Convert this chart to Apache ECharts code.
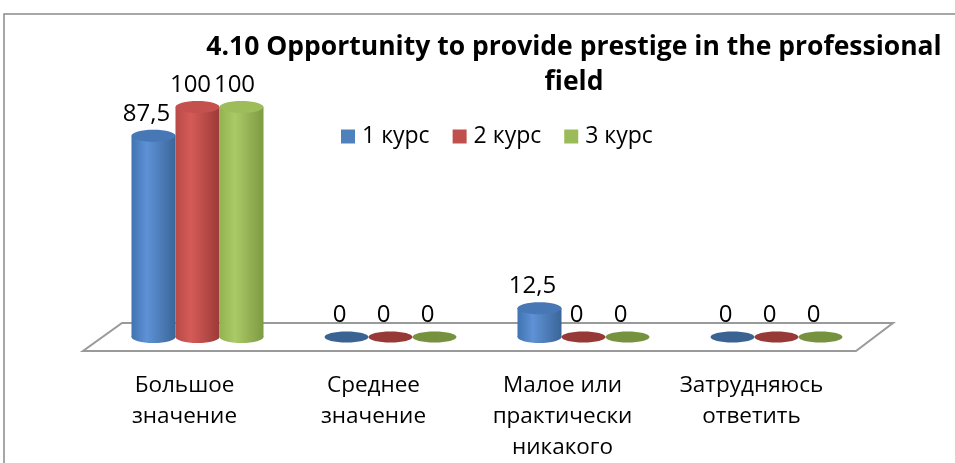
<!DOCTYPE html>
<html>
<head>
<meta charset="utf-8">
<script src="https://cdn.jsdelivr.net/npm/echarts@6/dist/echarts.min.js"></script>
<style>
html,body{margin:0;padding:0;background:#fff;}
#chart{width:955px;height:463px;}
</style>
</head>
<body>
<div id="chart"></div>
<script>
const categories = ['Большое\nзначение', 'Среднее\nзначение', 'Малое или\nпрактически\nникакого', 'Затрудняюсь\nответить'];
const seriesNames = ['1 курс', '2 курс', '3 курс'];
const course1 = [87.5, 0, 12.5, 0];
const course2 = [100, 0, 0, 0];
const course3 = [100, 0, 0, 0];
const titleText = '4.10 Opportunity to provide prestige in the professional\nfield';

const FONT = '"Open Sans", "DejaVu Sans", sans-serif';
const palettes = [
  {base: '#4F81BD', body: ['#4173B0', '#5E92D6', '#3A6598'], top: '#4777B5', disc: '#3A6394'},
  {base: '#C0504D', body: ['#B84A47', '#D45B57', '#9C3A37'], top: '#C4514E', disc: '#973936'},
  {base: '#9BBB59', body: ['#93B353', '#AACA66', '#7E9A43'], top: '#9DBD5B', disc: '#77923F'}
];
const allData = [course1, course2, course3];

function grad(c) {
  return new echarts.graphic.LinearGradient(0, 0, 1, 0, [
    {offset: 0, color: c[0]}, {offset: 0.35, color: c[1]}, {offset: 1, color: c[2]}
  ]);
}

function makeRender(s) {
  const pal = palettes[s];
  return function (params, api) {
    const ci = api.value(0), v = api.value(1);
    const base = api.coord([ci, 0]);
    const top = api.coord([ci, v]);
    const band = api.size([1, 0])[0];
    const w = band * 0.228;
    const cx = base[0] + (s - 1) * w;
    const rx = w / 2, ry = 6;
    const children = [];
    if (v === 0) {
      children.push({type: 'ellipse', shape: {cx: cx, cy: base[1], rx: rx, ry: 5.5}, style: {fill: pal.disc}});
    } else {
      children.push({type: 'ellipse', shape: {cx: cx, cy: base[1], rx: rx, ry: ry}, style: {fill: grad(pal.body)}});
      children.push({type: 'rect', shape: {x: cx - rx, y: top[1], width: w, height: base[1] - top[1]}, style: {fill: grad(pal.body)}});
      children.push({type: 'ellipse', shape: {cx: cx, cy: top[1], rx: rx, ry: ry}, style: {fill: pal.top}});
    }
    children.push({
      type: 'text',
      style: {
        x: cx - 7, y: top[1] - 22,
        text: String(v).replace('.', ','),
        font: '24px ' + FONT, fill: '#000',
        align: 'center', verticalAlign: 'middle'
      }
    });
    return {type: 'group', children: children};
  };
}

const chart = echarts.init(document.getElementById('chart'), null, {renderer: 'canvas'});
const option = {
  backgroundColor: '#fff',
  animation: false,
  title: {
    text: titleText,
    left: 569, top: 25,
    textAlign: 'center',
    textStyle: {fontFamily: FONT, fontWeight: 'bold', fontSize: 26.5, lineHeight: 35, color: '#000'}
  },
  legend: {
    data: seriesNames,
    left: 336, top: 120,
    icon: 'rect', itemWidth: 14, itemHeight: 14, itemGap: 23,
    textStyle: {fontFamily: FONT, fontSize: 23, color: '#000', padding: [0, 0, 0, 2]}
  },
  grid: [
    {left: 101, width: 772, top: 107, bottom: 126},
    {left: 90, width: 756, top: 107, bottom: 126}
  ],
  xAxis: [
    {type: 'category', data: categories, gridIndex: 0, show: false},
    {type: 'category', data: categories, gridIndex: 1,
     axisLine: {show: false}, axisTick: {show: false},
     axisLabel: {interval: 0, margin: 39, fontFamily: FONT, fontSize: 22.5, lineHeight: 31, color: '#000'}}
  ],
  yAxis: [
    {type: 'value', min: 0, max: 100, gridIndex: 0, show: false},
    {type: 'value', min: 0, max: 100, gridIndex: 1, show: false}
  ],
  series: seriesNames.map(function (name, s) {
    return {
      type: 'custom', name: name, xAxisIndex: 0, yAxisIndex: 0,
      clip: false, z: 3 + s,
      itemStyle: {color: palettes[s].base},
      renderItem: makeRender(s),
      encode: {x: 0, y: 1},
      data: allData[s].map(function (v, i) { return [i, v]; })
    };
  })
};
chart.setOption(option);

const zeroY = chart.convertToPixel({xAxisIndex: 0, yAxisIndex: 0}, [0, 0])[1];
const gL = 101, gR = 101 + 772;
chart.setOption({
  graphic: [
    {type: 'rect', z: 0, silent: true, shape: {x: 4, y: 14, width: 1000, height: 500},
     style: {fill: 'none', stroke: '#8a8a8a', lineWidth: 1.5}},
    {type: 'polygon', z: 1, silent: true,
     shape: {points: [[gL + 21, zeroY - 14], [gR + 20, zeroY - 14], [gR - 17, zeroY + 14], [gL - 18, zeroY + 14]]},
     style: {fill: '#fff', stroke: '#9a9a9a', lineWidth: 2}}
  ]
});
</script>
</body>
</html>
